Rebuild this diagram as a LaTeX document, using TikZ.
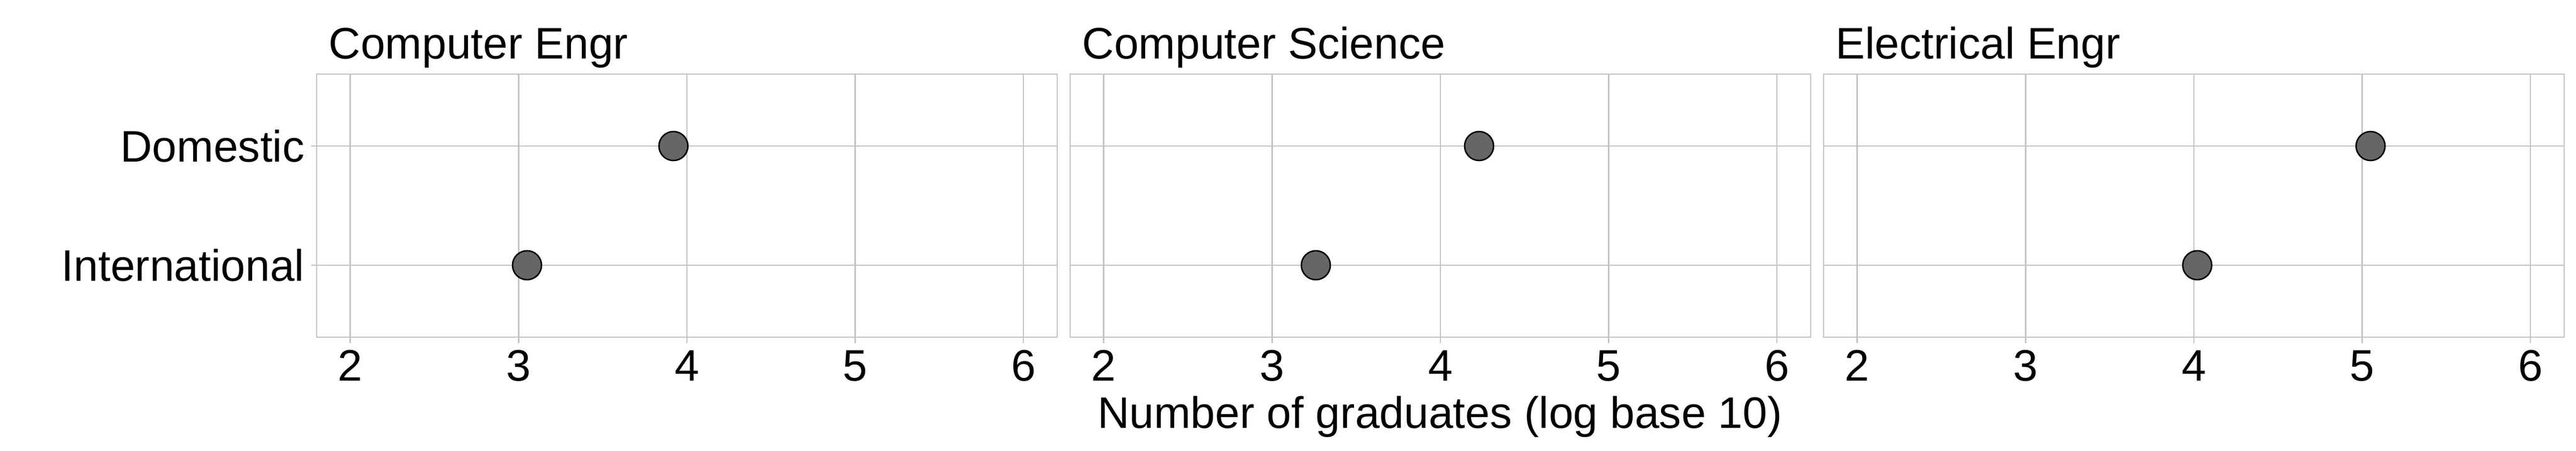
\documentclass[tikz,border=0pt]{standalone}
\usepackage{fontspec}
\setmainfont{Liberation Sans}
\definecolor{gridgray}{RGB}{195,195,195}
\definecolor{dotgray}{RGB}{102,102,102}
\tikzset{
  gridline/.style={draw=gridgray, line width=0.75pt},
  dotmark/.style={circle, draw=black, line width=0.77pt, fill=dotgray, minimum size=0.54cm, inner sep=0pt},
  plottext/.style={font=\fontsize{23.4}{28}\selectfont, inner sep=0pt},
}
\begin{document}
\begin{tikzpicture}
    \useasboundingbox (0,0) rectangle (48,8.4);
    \foreach \off/\name/\title/\dom/\intl in {0.2552/ce/Computer Engr/3.92/3.05, 14.2952/cs/Computer Science/4.23/3.26, 28.3352/ee/Electrical Engr/5.05/4.02}{
      \begin{scope}[xshift=\off cm, x=3.136cm]
        \draw[gridline] (1.8,2.12) rectangle (6.2,7.02);
        \foreach \v in {2,...,6}
          \draw[gridline] (\v,2.01) -- (\v,7.02) (\v,1.30) node[plottext, anchor=base] (\name-tick\v) {\v};
        \draw[gridline] (1.8,5.68) -- (6.2,5.68) (1.8,3.46) -- (6.2,3.46);
        \node[plottext, anchor=base west, xshift=0.22cm] (\name-title) at (1.8,7.30) {\title};
        \node[dotmark] (\name-dom) at (\dom,5.68) {};
        \node[dotmark] (\name-intl) at (\intl,3.46) {};
      \end{scope}
    }
    \draw[gridline] (5.80,5.68) -- (5.90,5.68) (5.80,3.46) -- (5.90,3.46);
    \node[plottext, anchor=base east] (domestic) at (5.68,5.385) {Domestic};
    \node[plottext, anchor=base east] (international) at (5.68,3.165) {International};
    \node[plottext, anchor=base] (xtitle) at (26.83,0.42) {Number of graduates (log base 10)};
\end{tikzpicture}
\end{document}
